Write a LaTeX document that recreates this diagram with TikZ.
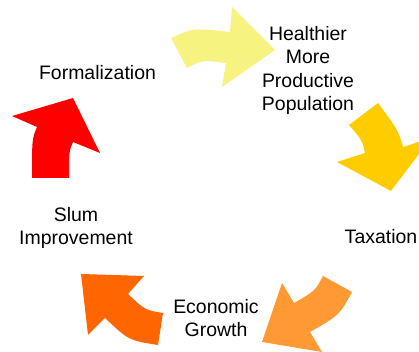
\documentclass[tikz,border=0pt]{standalone}
\usepackage{fontspec}
\setmainfont{Liberation Sans}
\usepackage{xcolor}
\usetikzlibrary{positioning}
\definecolor{paleyellow}{RGB}{246,243,128}
\definecolor{gold}{RGB}{255,204,0}
\definecolor{lightorange}{RGB}{255,153,51}
\definecolor{darkorange}{RGB}{255,102,0}
\definecolor{brightred}{RGB}{255,0,0}
\tikzset{stage/.style={align=center,inner sep=0pt,text=black,font=\fontsize{14.6}{17.3}\selectfont}}
\tikzset{cycarrow/.style={fill=#1,draw=none}}

\begin{document}
\begin{tikzpicture}[x=0.75pt, y=-0.75pt]
    \useasboundingbox (0,0) rectangle (419,352);
    \clip (0,0) rectangle (419,352);

    % the five curved arrows of the cycle
    \fill[cycarrow=paleyellow] (171,38) .. controls (193,28) .. (230,32) -- (232,7) -- (275,50)
        -- (222,87) -- (226,63) .. controls (202,60) .. (187,68) -- cycle;
    \fill[cycarrow=gold] (349,125) -- (378,103) .. controls (398,130) .. (403,147) -- (431,138)
        -- (391,191) -- (337,162) -- (365,153) .. controls (362,140) .. (349,125) -- cycle;
    \fill[cycarrow=lightorange] (323,276) -- (352,292) .. controls (339.5,315) .. (310,332) -- (322,352)
        -- (262,342) -- (282,283) -- (294,303) .. controls (315,291) .. (323,276) -- cycle;
    \fill[cycarrow=darkorange] (163,313) -- (158,345) .. controls (128.7,340.4) .. (105,318) -- (88,335)
        -- (81,274) -- (144,276) -- (128,294) .. controls (145,310) .. (163,313) -- cycle;
    \fill[cycarrow=brightred] (32,178) -- (69,178) .. controls (69,151.5) .. (73,142) -- (100,153)
        -- (73,98) -- (12,116) -- (37,127) .. controls (32,139) .. (32,178) -- cycle;

    \node[stage] (health) at (308,70.5) {Healthier\\More\\Productive\\Population};
    \node[stage] (tax) at (381,236.5) {Taxation};
    \node[stage] (growth) at (216,318.5) {Economic\\Growth};
    \node[stage] (slum) at (76,228) {Slum\\Improvement};
    \node[stage] (formal) at (97.5,72.5) {Formalization};
\end{tikzpicture}
\end{document}
